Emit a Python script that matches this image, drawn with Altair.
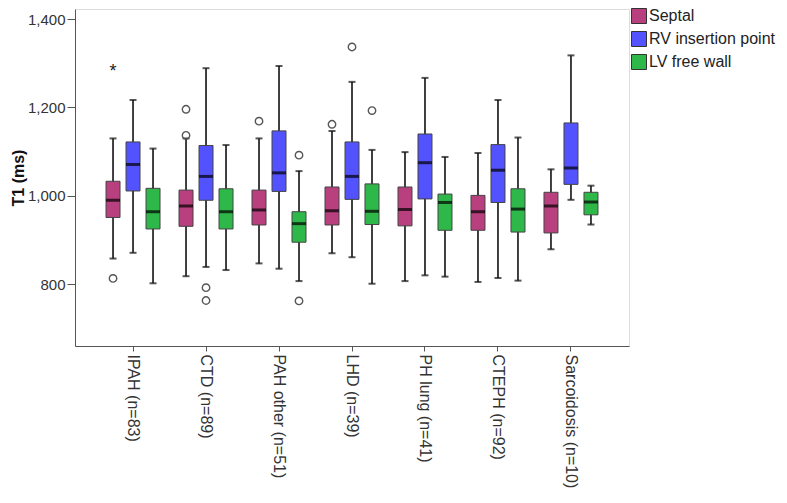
import altair as alt
import pandas as pd

groups = ["IPAH (n=83)", "CTD (n=89)", "PAH other (n=51)", "LHD (n=39)",
          "PH lung (n=41)", "CTEPH (n=92)", "Sarcoidosis (n=10)"]
regions = ["Septal", "RV insertion point", "LV free wall"]
colors = ["#B8407E", "#5252FF", "#2FB84A"]

# per region: whisker low, Q1, median, Q3, whisker high (ms)
septal_lo = [858, 818, 847, 870, 807, 805, 879]
septal_q1 = [951, 931, 934, 934, 932, 922, 916]
septal_med = [990, 977, 968, 966, 969, 964, 977]
septal_q3 = [1033, 1013, 1013, 1020, 1020, 1001, 1008]
septal_hi = [1130, 1130, 1130, 1147, 1099, 1097, 1060]

rv_lo = [871, 839, 835, 861, 820, 814, 991]
rv_q1 = [1011, 990, 1010, 992, 993, 985, 1026]
rv_med = [1071, 1044, 1052, 1044, 1075, 1058, 1063]
rv_q3 = [1122, 1114, 1147, 1122, 1140, 1116, 1165]
rv_hi = [1217, 1289, 1294, 1258, 1267, 1217, 1318]

lv_lo = [802, 832, 807, 801, 817, 808, 935]
lv_q1 = [925, 925, 895, 935, 922, 918, 957]
lv_med = [964, 964, 937, 965, 985, 970, 986]
lv_q3 = [1017, 1016, 964, 1027, 1004, 1016, 1008]
lv_hi = [1107, 1115, 1056, 1104, 1088, 1132, 1023]

# outliers: group index, region index, value
out_group = [0, 1, 1, 1, 1, 2, 2, 2, 3, 3, 3]
out_region = [0, 0, 0, 1, 1, 0, 2, 2, 0, 1, 2]
out_value = [813, 1196, 1137, 792, 763, 1169, 1092, 762, 1162, 1337, 1193]

# extreme values (asterisk)
ext_group = [0]
ext_region = [0]
ext_value = [1292]

stats = {
    "Septal": (septal_lo, septal_q1, septal_med, septal_q3, septal_hi),
    "RV insertion point": (rv_lo, rv_q1, rv_med, rv_q3, rv_hi),
    "LV free wall": (lv_lo, lv_q1, lv_med, lv_q3, lv_hi),
}
rows = []
for r in regions:
    lo, q1, med, q3, hi = stats[r]
    for i, g in enumerate(groups):
        rows.append(dict(group=g, region=r, lo=lo[i], q1=q1[i], med=med[i], q3=q3[i], hi=hi[i]))
box_df = pd.DataFrame(rows)
out_df = pd.DataFrame(dict(group=[groups[i] for i in out_group],
                           region=[regions[i] for i in out_region], value=out_value))
ext_df = pd.DataFrame(dict(group=[groups[i] for i in ext_group],
                           region=[regions[i] for i in ext_region], value=ext_value))

FONT = "Liberation Sans"
yscale = alt.Scale(domain=[660, 1423], nice=False, zero=False)
xenc = alt.X("group:N", sort=groups,
             scale=alt.Scale(paddingInner=0.178, paddingOuter=0.384),
             axis=alt.Axis(title=None, labelAngle=90, labelFontSize=16, labelFont=FONT,
                           labelColor="#333", tickSize=5, tickColor="#555",
                           domainColor="#555", labelPadding=3))
xoff = alt.XOffset("region:N", sort=regions, scale=alt.Scale(paddingInner=0, paddingOuter=0))

whisk = alt.Chart(box_df).mark_rule(color="#111", strokeWidth=1.6).encode(
    x=xenc, xOffset=xoff,
    y=alt.Y("lo:Q", scale=yscale,
            axis=alt.Axis(title="T1 (ms)", titleFontSize=16, titleFont=FONT, titleFontWeight="bold",
                          titleColor="#111", titleX=-57, titleBaseline="middle",
                          labelFontSize=15, labelFont=FONT, labelColor="#333",
                          values=[800, 1000, 1200, 1400], format=",d", grid=False,
                          tickSize=8, tickColor="#555", domainColor="#555",
                          labelPadding=2)),
    y2="hi:Q")

caps_lo = alt.Chart(box_df).mark_tick(color="#111", thickness=2, size=7).encode(
    x=xenc, xOffset=xoff, y=alt.Y("lo:Q", scale=yscale))
caps_hi = alt.Chart(box_df).mark_tick(color="#111", thickness=2, size=7).encode(
    x=xenc, xOffset=xoff, y=alt.Y("hi:Q", scale=yscale))

boxes = alt.Chart(box_df).mark_bar(size=14, stroke="#444", strokeWidth=1).encode(
    x=xenc, xOffset=xoff,
    y=alt.Y("q1:Q", scale=yscale), y2="q3:Q",
    color=alt.Color("region:N", sort=regions,
                    scale=alt.Scale(domain=regions, range=colors),
                    legend=alt.Legend(title=None, orient="none", legendX=556, legendY=-1,
                                      symbolType="square", symbolSize=225,
                                      symbolStrokeColor="#333", symbolStrokeWidth=1,
                                      symbolOpacity=1, labelLimit=200,
                                      labelFontSize=16, labelFont=FONT, labelColor="#222",
                                      labelOffset=2, rowPadding=3)))

medians = alt.Chart(box_df).mark_tick(color="#000", thickness=3, size=14).encode(
    x=xenc, xOffset=xoff, y=alt.Y("med:Q", scale=yscale))

outliers = alt.Chart(out_df).mark_point(shape="circle", filled=False, size=55,
                                        color="#555", strokeWidth=1.4, opacity=1).encode(
    x=xenc, xOffset=xoff, y=alt.Y("value:Q", scale=yscale))

extremes = alt.Chart(ext_df).mark_text(text="*", fontSize=18, font=FONT, color="#222",
                                       dy=5).encode(
    x=xenc, xOffset=xoff, y=alt.Y("value:Q", scale=yscale))

chart = alt.layer(whisk, caps_lo, caps_hi, boxes, medians, outliers, extremes).properties(
    width=554, height=337,
    autosize=alt.AutoSizeParams(type="none"),
    padding={"left": 67, "top": 1, "right": 150, "bottom": 148},
).configure_view(stroke="#555", strokeWidth=1.2).configure(background="white")

chart.save("out.html", embed_options={"renderer": "svg", "actions": False})
